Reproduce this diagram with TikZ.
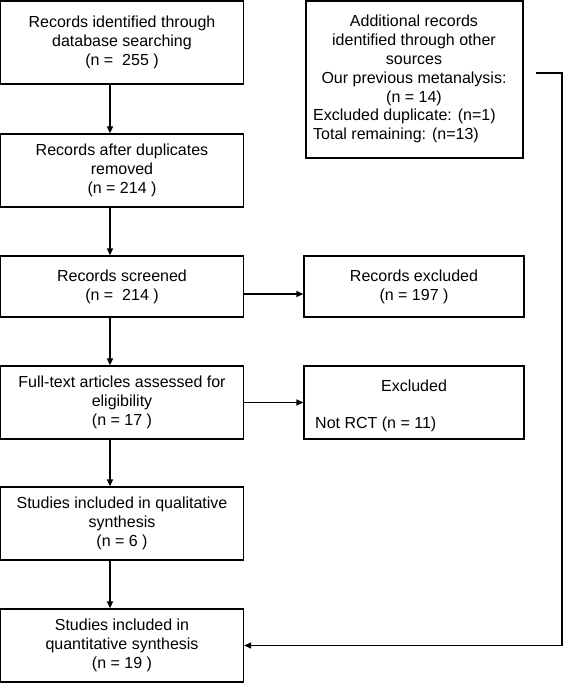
\documentclass[tikz,border=0pt]{standalone}
\usepackage{fontspec}
\setmainfont{Liberation Sans}
\usetikzlibrary{arrows.meta,calc}
\begin{document}
\begin{tikzpicture}[x=1pt,y=-1pt,
  every node/.style={font=\fontsize{16}{19}\selectfont},
  box/.style={draw, line width=1.3pt, inner sep=0pt, align=center},
  lbox/.style={box, minimum width=243pt},
  plain/.style={inner sep=0pt},
  arr/.style={line width=1.3pt, -{Triangle[length=7pt,width=6pt]}}]
\useasboundingbox (0,0) rectangle (566,683);
% left column
\node[lbox, minimum height=83pt] (b1) at (122,42.5)
  {Records identified through\\database searching\\(n = \ 255 )};
\node[lbox, minimum height=73pt] (b2) at (122,170.5)
  {Records after duplicates\\removed\\(n = 214 )};
\node[lbox, minimum height=61pt] (b3) at (122,286.5)
  {Records screened\\(n = \ 214 )};
\node[lbox, minimum height=73pt] (b4) at (122,402.5)
  {Full-text articles assessed for\\eligibility\\(n = 17 )};
\node[lbox, minimum height=73pt] (b5) at (122,523.5)
  {Studies included in qualitative\\synthesis\\(n = 6 )};
\node[lbox, minimum height=73pt] (b6) at (122,645.5)
  {Studies included in\\quantitative synthesis\\(n = 19 )};
% right column
\node[box, minimum width=217pt, minimum height=157pt] (add) at (414.5,79.5) {};
\node[plain, align=center] (addt1) at (414,60)
  {Additional records\\identified through other\\sources\\Our previous metanalysis:\\(n = 14)};
\node[plain, align=left, anchor=west] (addt2) at (313,126)
  {Excluded duplicate: (n=1)\\Total remaining: (n=13)};
\node[box, minimum width=220pt, minimum height=61pt] (ex1) at (414,286.5)
  {Records excluded\\(n = 197 )};
\node[box, minimum width=220pt, minimum height=73pt] (ex2) at (414,402.5) {};
\node[plain] (ex2t) at (414,386) {Excluded};
\node[plain, anchor=west] (ex2n) at (315,424) {Not RCT (n = 11)};
% connectors
\coordinate (ax) at (110,0);
\coordinate (ay) at (0,294);
\coordinate (src) at (536,73);
\coordinate (rx) at (562,0);
\draw[arr] (ax |- b1.south) -- (ax |- b2.north);
\draw[arr] (ax |- b2.south) -- (ax |- b3.north);
\draw[arr] (ax |- b3.south) -- (ax |- b4.north);
\draw[arr] (ax |- b4.south) -- (ax |- b5.north);
\draw[arr] (ax |- b5.south) -- (ax |- b6.north);
\draw[arr] (b3.east |- ay) -- (ex1.west |- ay);
\draw[arr] (b4.east) -- (ex2.west);
\draw[arr] (src) -- (src -| rx) |- (b6.east);
\end{tikzpicture}
\end{document}
